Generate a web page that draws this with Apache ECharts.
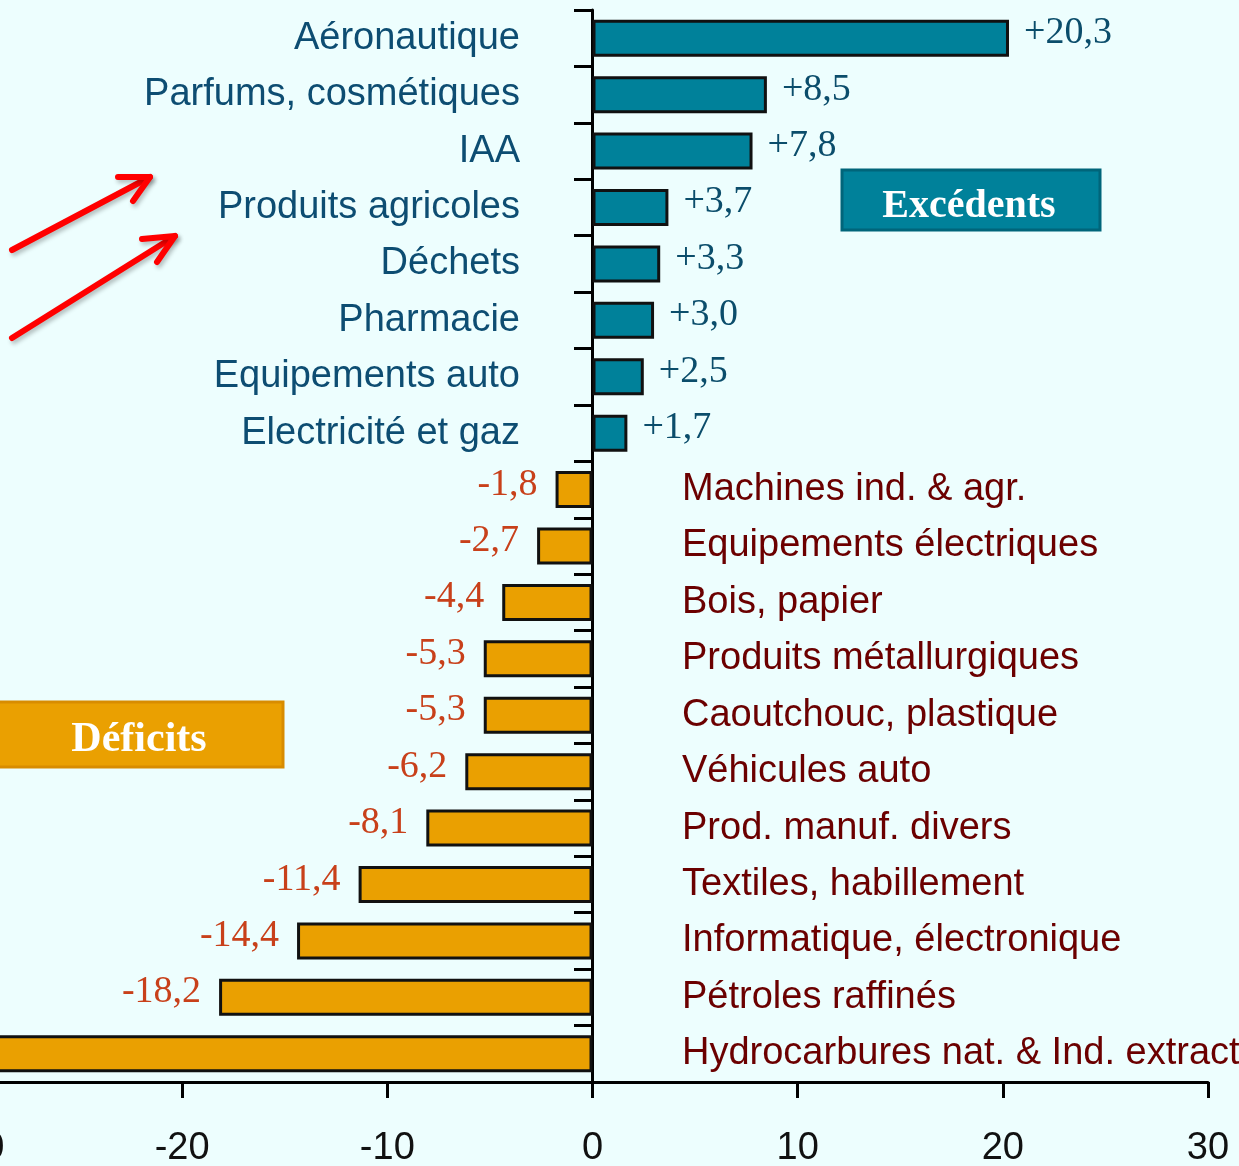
<!DOCTYPE html>
<html>
<head>
<meta charset="utf-8">
<script src="https://cdn.jsdelivr.net/npm/echarts@6/dist/echarts.min.js"></script>
<style>
  html, body { margin: 0; padding: 0; background: #edfefe; }
  #chart { width: 1239px; height: 1166px; }
</style>
</head>
<body>
<div id="chart"></div>
<script>
// soldes par secteur (Md€), de haut en bas
const categories = [
  'Aéronautique', 'Parfums, cosmétiques', 'IAA', 'Produits agricoles', 'Déchets',
  'Pharmacie', 'Equipements auto', 'Electricité et gaz',
  'Machines ind. & agr.', 'Equipements électriques', 'Bois, papier',
  'Produits métallurgiques', 'Caoutchouc, plastique', 'Véhicules auto',
  'Prod. manuf. divers', 'Textiles, habillement', 'Informatique, électronique',
  'Pétroles raffinés', 'Hydrocarbures nat. & Ind. extractives'
];
const values = [
  20.3, 8.5, 7.8, 3.7, 3.3, 3.0, 2.5, 1.7,
  -1.8, -2.7, -4.4, -5.3, -5.3, -6.2, -8.1, -11.4, -14.4, -18.2, -30
];
const xTicks = [-30, 30, 10]; // min, max, pas

const TEAL = '#00819a';
const ORANGE = '#eaa001';

const chart = echarts.init(document.getElementById('chart'));

// "+20,3" / "-1,8"
function fmt(v) {
  const s = Math.abs(v).toFixed(1).replace('.', ',');
  return (v > 0 ? '+' : '-') + s;
}

const seriesData = values.map(v => ({
  value: v,
  itemStyle: { color: v > 0 ? TEAL : ORANGE },
  label: {
    position: v > 0 ? 'right' : 'left',
    distance: v > 0 ? 15 : 18,
    color: v > 0 ? '#0b4d6b' : '#c8401a'
  }
}));

function arrow(x1, y1, x2, y2, ax, ay, bx, by) {
  const style = {
    stroke: '#ff0000', lineWidth: 6, lineCap: 'round', lineJoin: 'round', fill: null,
    shadowColor: 'rgba(0,0,0,0.25)', shadowBlur: 4, shadowOffsetX: 2, shadowOffsetY: 3
  };
  return [
    { type: 'polyline', shape: { points: [[x1, y1], [x2, y2]] }, style: style },
    { type: 'polyline', shape: { points: [[ax, ay], [x2, y2], [bx, by]] }, style: style }
  ];
}

// la grille commence hors champ (-23px) : l'axe des catégories est ramené sur le zéro
const GRID_LEFT = -23, GRID_RIGHT = 31, W = 1239;
const ZERO_X = 592;

const option = {
  backgroundColor: '#edfefe',
  animation: false,
  grid: {
    left: GRID_LEFT, right: GRID_RIGHT, top: 10, bottom: 84,
    containLabel: false, outerBoundsMode: 'none'
  },
  xAxis: {
    type: 'value',
    min: xTicks[0],
    max: xTicks[1],
    interval: xTicks[2],
    splitLine: { show: false },
    axisLine: { show: true, onZero: false, lineStyle: { color: '#000', width: 3 } },
    axisTick: { show: true, length: 16, lineStyle: { color: '#000', width: 3 } },
    axisLabel: {
      margin: 48, fontSize: 38, color: '#111', fontFamily: 'Liberation Sans'
    }
  },
  yAxis: [{
    type: 'category',
    inverse: true,
    position: 'left',
    offset: GRID_LEFT - ZERO_X,
    data: categories,
    axisLine: { show: true, onZero: false, lineStyle: { color: '#000', width: 3 } },
    axisTick: { show: true, length: 18, lineStyle: { color: '#000', width: 3 } },
    axisLabel: {
      show: true, interval: 0,
      margin: 72, fontSize: 38, color: '#0d4d72', fontFamily: 'Liberation Sans',
      formatter: (name, i) => values[i] > 0 ? name : ''
    }
  }, {
    type: 'category',
    inverse: true,
    position: 'right',
    offset: ZERO_X - (W - GRID_RIGHT),
    data: categories,
    axisLine: { show: false, onZero: false },
    axisTick: { show: false },
    axisLabel: {
      show: true, interval: 0,
      margin: 90, fontSize: 38, color: '#6b0000', fontFamily: 'Liberation Sans',
      formatter: (name, i) => values[i] < 0 ? name : ''
    }
  }],
  series: [{
    type: 'bar',
    yAxisIndex: 0,
    barWidth: 37,
    data: seriesData,
    itemStyle: { borderColor: '#111', borderWidth: 3 },
    label: {
      show: true,
      fontSize: 38,
      fontFamily: 'Liberation Serif',
      offset: [0, -5],
      formatter: p => fmt(p.value)
    }
  }],
  graphic: [
    {
      type: 'rect',
      shape: { x: 842, y: 170, width: 258, height: 60 },
      style: { fill: TEAL, stroke: '#00657a', lineWidth: 3 }
    },
    {
      type: 'text',
      x: 969, y: 207,
      style: {
        text: 'Excédents', fill: '#fff', font: 'bold 40px "Liberation Serif"',
        align: 'center', verticalAlign: 'middle'
      }
    },
    {
      type: 'rect',
      shape: { x: -5, y: 702, width: 288, height: 65 },
      style: { fill: ORANGE, stroke: '#d88c00', lineWidth: 3 }
    },
    {
      type: 'text',
      x: 139, y: 740,
      style: {
        text: 'Déficits', fill: '#fff', font: 'bold 42px "Liberation Serif"',
        align: 'center', verticalAlign: 'middle'
      }
    }
  ]
    .concat(arrow(12, 250, 150, 177, 118, 177, 133, 201))
    .concat(arrow(12, 338, 175, 236, 142, 239, 157, 262))
};

chart.setOption(option);
</script>
</body>
</html>
